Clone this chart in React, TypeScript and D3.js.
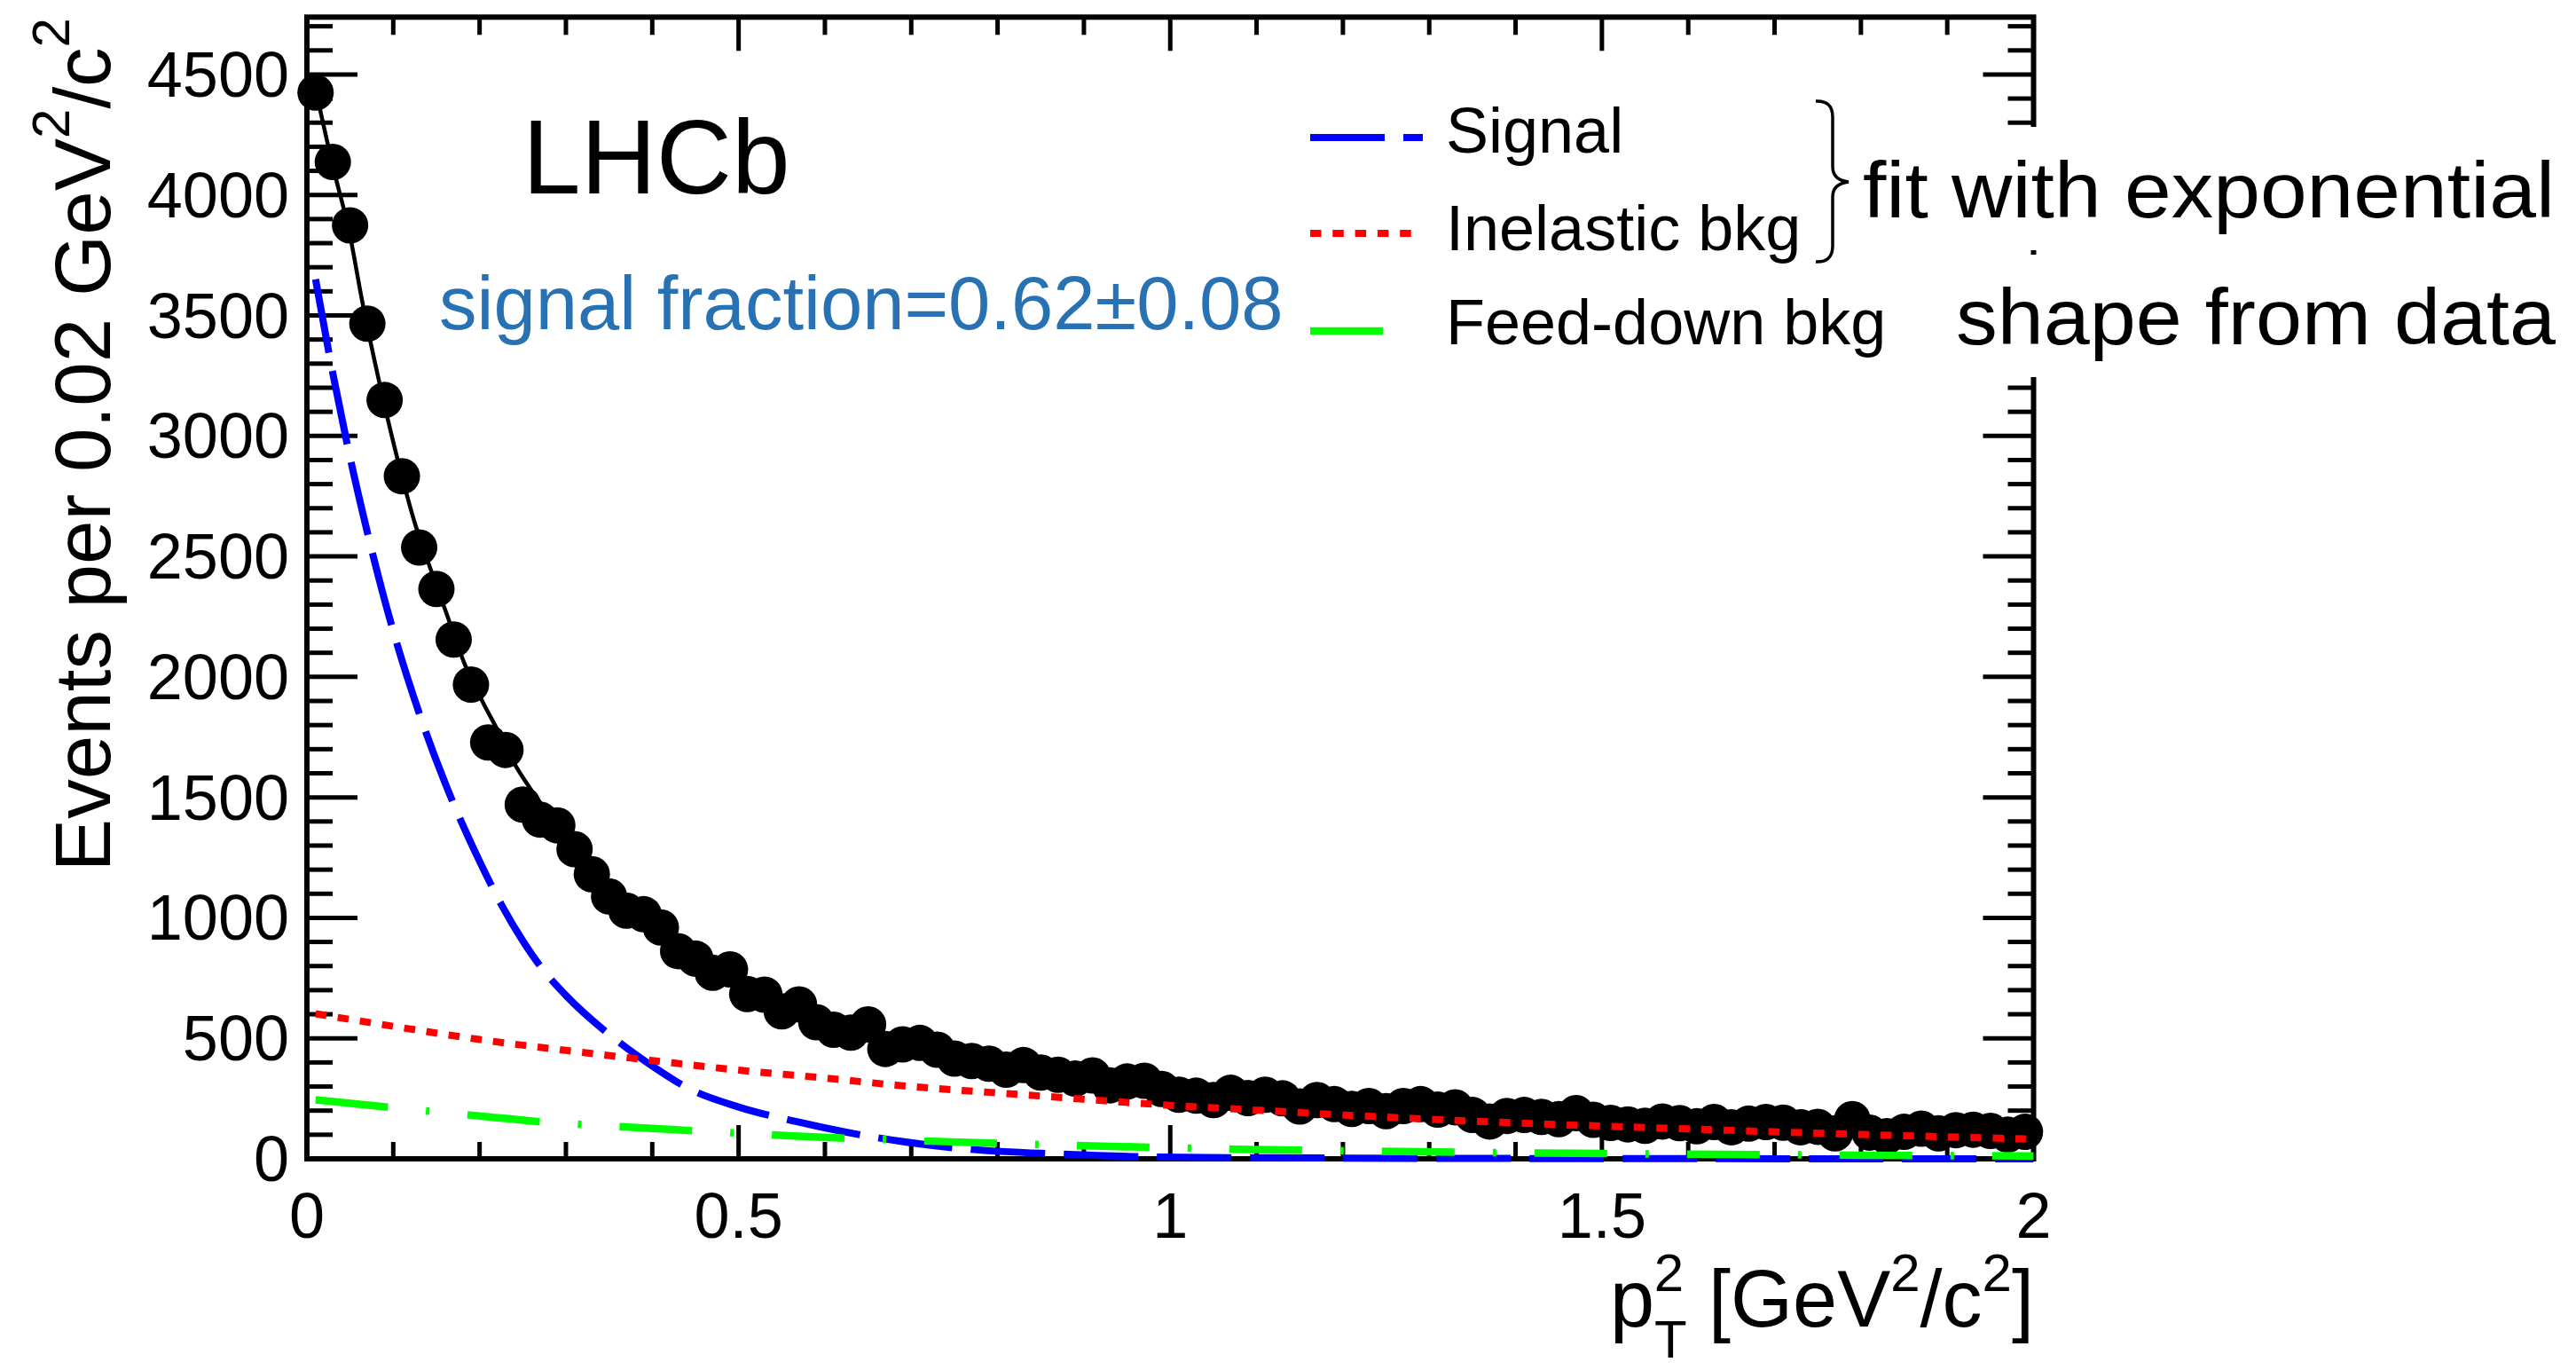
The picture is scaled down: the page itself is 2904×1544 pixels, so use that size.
import React from "react";
import * as d3 from "d3";

// ---------- data ----------
const BIN_WIDTH = 0.02;
const counts = [
  4425, 4137, 3874, 3466, 3149, 2833, 2537, 2365, 2155, 1968,
  1728, 1697, 1470, 1408, 1384, 1285, 1181, 1089, 1030, 1015,
  960, 862, 831, 772, 786, 684, 681, 612, 641, 567,
  536, 524, 558, 456, 475, 481, 453, 416, 406, 395,
  370, 389, 358, 349, 333, 346, 305, 321, 324, 290,
  266, 262, 244, 274, 252, 266, 251, 217, 244, 227,
  207, 219, 198, 219, 227, 204, 214, 182, 155, 178,
  182, 174, 165, 190, 162, 149, 143, 137, 155, 148,
  135, 153, 131, 146, 153, 150, 131, 133, 106, 165,
  109, 94, 112, 125, 106, 119, 121, 116, 100, 112,
];

const totalFit: [number, number][] = [
  [0.01, 4440], [0.03, 4120], [0.05, 3830], [0.064, 3560], [0.084, 3220],
  [0.1045, 2910], [0.1257, 2630], [0.143, 2450], [0.163, 2250], [0.182, 2060],
  [0.203, 1900], [0.22, 1785], [0.242, 1630], [0.258, 1540], [0.28, 1430],
  [0.3, 1325], [0.35, 1110], [0.4, 960], [0.45, 838], [0.5, 738], [0.55, 656],
  [0.6, 586], [0.65, 528], [0.7, 480], [0.75, 440], [0.8, 402], [0.9, 342],
  [1.0, 294], [1.1, 258], [1.2, 230], [1.3, 206], [1.4, 186], [1.5, 168],
  [1.6, 152], [1.7, 138], [1.8, 125], [1.9, 113], [2.0, 103],
];

const signalCurve: [number, number][] = [
  [0.01, 3650], [0.03, 3260], [0.05, 2910], [0.07, 2600], [0.1, 2190],
  [0.13, 1850], [0.16, 1560], [0.2, 1235], [0.226, 1050], [0.25, 905],
  [0.273, 787], [0.3, 678], [0.352, 511], [0.4, 385], [0.441, 294],
  [0.5, 215], [0.57, 152], [0.65, 94], [0.76, 42], [0.87, 20], [0.98, 8],
  [1.2, 3], [1.5, 1], [2.0, 0],
];

const inelasticCurve: [number, number][] = [
  [0.01, 602], [0.1, 550], [0.2, 495], [0.3, 450], [0.4, 408], [0.5, 368],
  [0.58, 342], [0.7, 300], [0.83, 266], [1.0, 222], [1.1, 202], [1.2, 182],
  [1.4, 149], [1.6, 124], [1.8, 101], [2.0, 82],
];

const feedDownCurve: [number, number][] = [
  [0.01, 245], [0.1, 212], [0.2, 178], [0.273, 153], [0.35, 136],
  [0.452, 116], [0.569, 94], [0.7, 76], [0.81, 63], [1.0, 46], [1.076, 40],
  [1.21, 33], [1.4, 25], [1.57, 20], [1.8, 15], [2.0, 12],
];

const xMajorTicks = [0, 0.5, 1, 1.5, 2];
const xTickLabels = ["0", "0.5", "1", "1.5", "2"];
const yMajorTicks = [0, 500, 1000, 1500, 2000, 2500, 3000, 3500, 4000, 4500];
const yTickLabels = ["0", "500", "1000", "1500", "2000", "2500", "3000", "3500", "4000", "4500"];

const legendLabels = ["Signal", "Inelastic bkg", "Feed-down bkg"];

// ---------- layout ----------
const W = 2904;
const H = 1544;
const L = 346;
const R = 2292.5;
const T = 19.3;
const B = 1306;
const FONT = "'Liberation Sans', Arial, Helvetica, sans-serif";

const x = d3.scaleLinear().domain([0, 2]).range([L, R]);
const y = d3.scaleLinear().domain([0, 4738]).range([B, T]);

const line = d3
  .line<[number, number]>()
  .x((d) => x(d[0]))
  .y((d) => y(d[1]))
  .curve(d3.curveMonotoneX);

const styles = {
  signal: { stroke: "#0000ff", strokeWidth: 8, dash: "84 21" },
  inel: { stroke: "#ff0000", strokeWidth: 8, dash: "12.5 12.8" },
  feed: { stroke: "#00ff00", strokeWidth: 8.5, dash: "82 43 4 43" },
};

export default function App() {
  const xMinor = d3.range(0, 2.0001, 0.1).filter((v) => Math.abs(v * 2 - Math.round(v * 2)) > 1e-6);
  const yMinor = d3.range(0, 4738, 100).filter((v) => v % 500 !== 0);

  const points = counts.map((c, i) => [BIN_WIDTH / 2 + i * BIN_WIDTH, c] as [number, number]);

  return (
    <svg
      width={W}
      height={H}
      viewBox={`0 0 ${W} ${H}`}
      style={{ display: "block", background: "#fff", position: "absolute", left: 0, top: 0 }}
    >
      <rect x={0} y={0} width={W} height={H} fill="#fff" />

      {/* frame */}
      <rect x={L} y={T} width={R - L} height={B - T} fill="none" stroke="#000" strokeWidth={6} />

      {/* ticks */}
      <g stroke="#000" strokeWidth={5}>
        {yMajorTicks.map((v) => (
          <g key={"ym" + v}>
            <line x1={L} x2={L + 57} y1={y(v)} y2={y(v)} />
            <line x1={R} x2={R - 57} y1={y(v)} y2={y(v)} />
          </g>
        ))}
        {yMinor.map((v) => (
          <g key={"yn" + v}>
            <line x1={L} x2={L + 29} y1={y(v)} y2={y(v)} />
            <line x1={R} x2={R - 29} y1={y(v)} y2={y(v)} />
          </g>
        ))}
        {xMajorTicks.map((v) => (
          <g key={"xm" + v}>
            <line x1={x(v)} x2={x(v)} y1={B} y2={B - 38} />
            <line x1={x(v)} x2={x(v)} y1={T} y2={T + 38} />
          </g>
        ))}
        {xMinor.map((v) => (
          <g key={"xn" + v}>
            <line x1={x(v)} x2={x(v)} y1={B} y2={B - 19} />
            <line x1={x(v)} x2={x(v)} y1={T} y2={T + 20} />
          </g>
        ))}
      </g>

      {/* tick labels */}
      <g fontFamily={FONT} fontSize={72} fill="#000">
        {yMajorTicks.map((v, i) => (
          <text key={"yl" + v} x={326} y={y(v) + 25} textAnchor="end">
            {yTickLabels[i]}
          </text>
        ))}
        {xMajorTicks.map((v, i) => (
          <text key={"xl" + v} x={x(v)} y={1395} textAnchor="middle">
            {xTickLabels[i]}
          </text>
        ))}
      </g>

      {/* axis titles */}
      <text
        fontFamily={FONT}
        fontSize={89}
        textAnchor="end"
        transform="translate(124,20) rotate(-90)"
        fill="#000"
      >
        Events per 0.02 GeV
        <tspan fontSize={60} dy={-46}>2</tspan>
        <tspan dy={46}>/c</tspan>
        <tspan fontSize={60} dy={-46}>2</tspan>
      </text>
      <text fontFamily={FONT} fontSize={90} x={1815} y={1495} fill="#000">
        p
        <tspan fontSize={60} dy={35}>T</tspan>
        <tspan fontSize={60} dx={-37} dy={-75}>2</tspan>
        <tspan dx={3} dy={40}>{" [GeV"}</tspan>
        <tspan fontSize={60} dy={-40}>2</tspan>
        <tspan dy={40}>/c</tspan>
        <tspan fontSize={60} dy={-40}>2</tspan>
        <tspan dy={40}>]</tspan>
      </text>

      {/* data points */}
      <g fill="#000">
        {points.map((p, i) => (
          <circle key={"p" + i} cx={x(p[0])} cy={y(p[1])} r={20.5} />
        ))}
      </g>

      {/* fit curves */}
      <path d={line(totalFit) || ""} fill="none" stroke="#000" strokeWidth={4.5} />
      <path
        d={line(signalCurve) || ""}
        fill="none"
        stroke={styles.signal.stroke}
        strokeWidth={styles.signal.strokeWidth}
        strokeDasharray={styles.signal.dash}
      />
      <path
        d={line(inelasticCurve) || ""}
        fill="none"
        stroke={styles.inel.stroke}
        strokeWidth={styles.inel.strokeWidth}
        strokeDasharray={styles.inel.dash}
      />
      <path
        d={line(feedDownCurve) || ""}
        fill="none"
        stroke={styles.feed.stroke}
        strokeWidth={styles.feed.strokeWidth}
        strokeDasharray={styles.feed.dash}
      />

      {/* LHCb label and signal fraction */}
      <text x={589} y={218} fontFamily={FONT} fontSize={118} fill="#000">
        LHCb
      </text>
      <text x={495} y={371} fontFamily={FONT} fontSize={85} fill="#2872b4">
        signal fraction=0.62±0.08
      </text>

      {/* legend */}
      <line x1={1477} x2={1604} y1={155} y2={155} stroke={styles.signal.stroke} strokeWidth={styles.signal.strokeWidth} strokeDasharray={styles.signal.dash} />
      <line x1={1477} x2={1596} y1={263} y2={263} stroke={styles.inel.stroke} strokeWidth={styles.inel.strokeWidth} strokeDasharray={styles.inel.dash} />
      <line x1={1477} x2={1563} y1={373} y2={373} stroke={styles.feed.stroke} strokeWidth={styles.feed.strokeWidth} strokeDasharray={styles.feed.dash} />
      <g fontFamily={FONT} fontSize={72} fill="#000">
        <text x={1630} y={172}>{legendLabels[0]}</text>
        <text x={1630} y={282}>{legendLabels[1]}</text>
        <text x={1630} y={388}>{legendLabels[2]}</text>
      </g>

      {/* brace */}
      <path
        d="M 2047 114 Q 2066 113 2066 132 L 2066 188 Q 2066 203 2084 205 Q 2066 207 2066 222 L 2066 277 Q 2066 296 2047 295"
        fill="none"
        stroke="#000"
        strokeWidth={3.5}
      />

      {/* annotation boxes */}
      <rect x={2092} y={143} width={W - 2092} height={139} fill="#fff" />
      <rect x={2190} y={287} width={W - 2190} height={138} fill="#fff" />
      <text x={2100} y={245} fontFamily={FONT} fontSize={89} fill="#000" textLength={780} lengthAdjust="spacingAndGlyphs">
        fit with exponential
      </text>
      <text x={2205} y={388} fontFamily={FONT} fontSize={89} fill="#000" textLength={676} lengthAdjust="spacingAndGlyphs">
        shape from data
      </text>
    </svg>
  );
}
